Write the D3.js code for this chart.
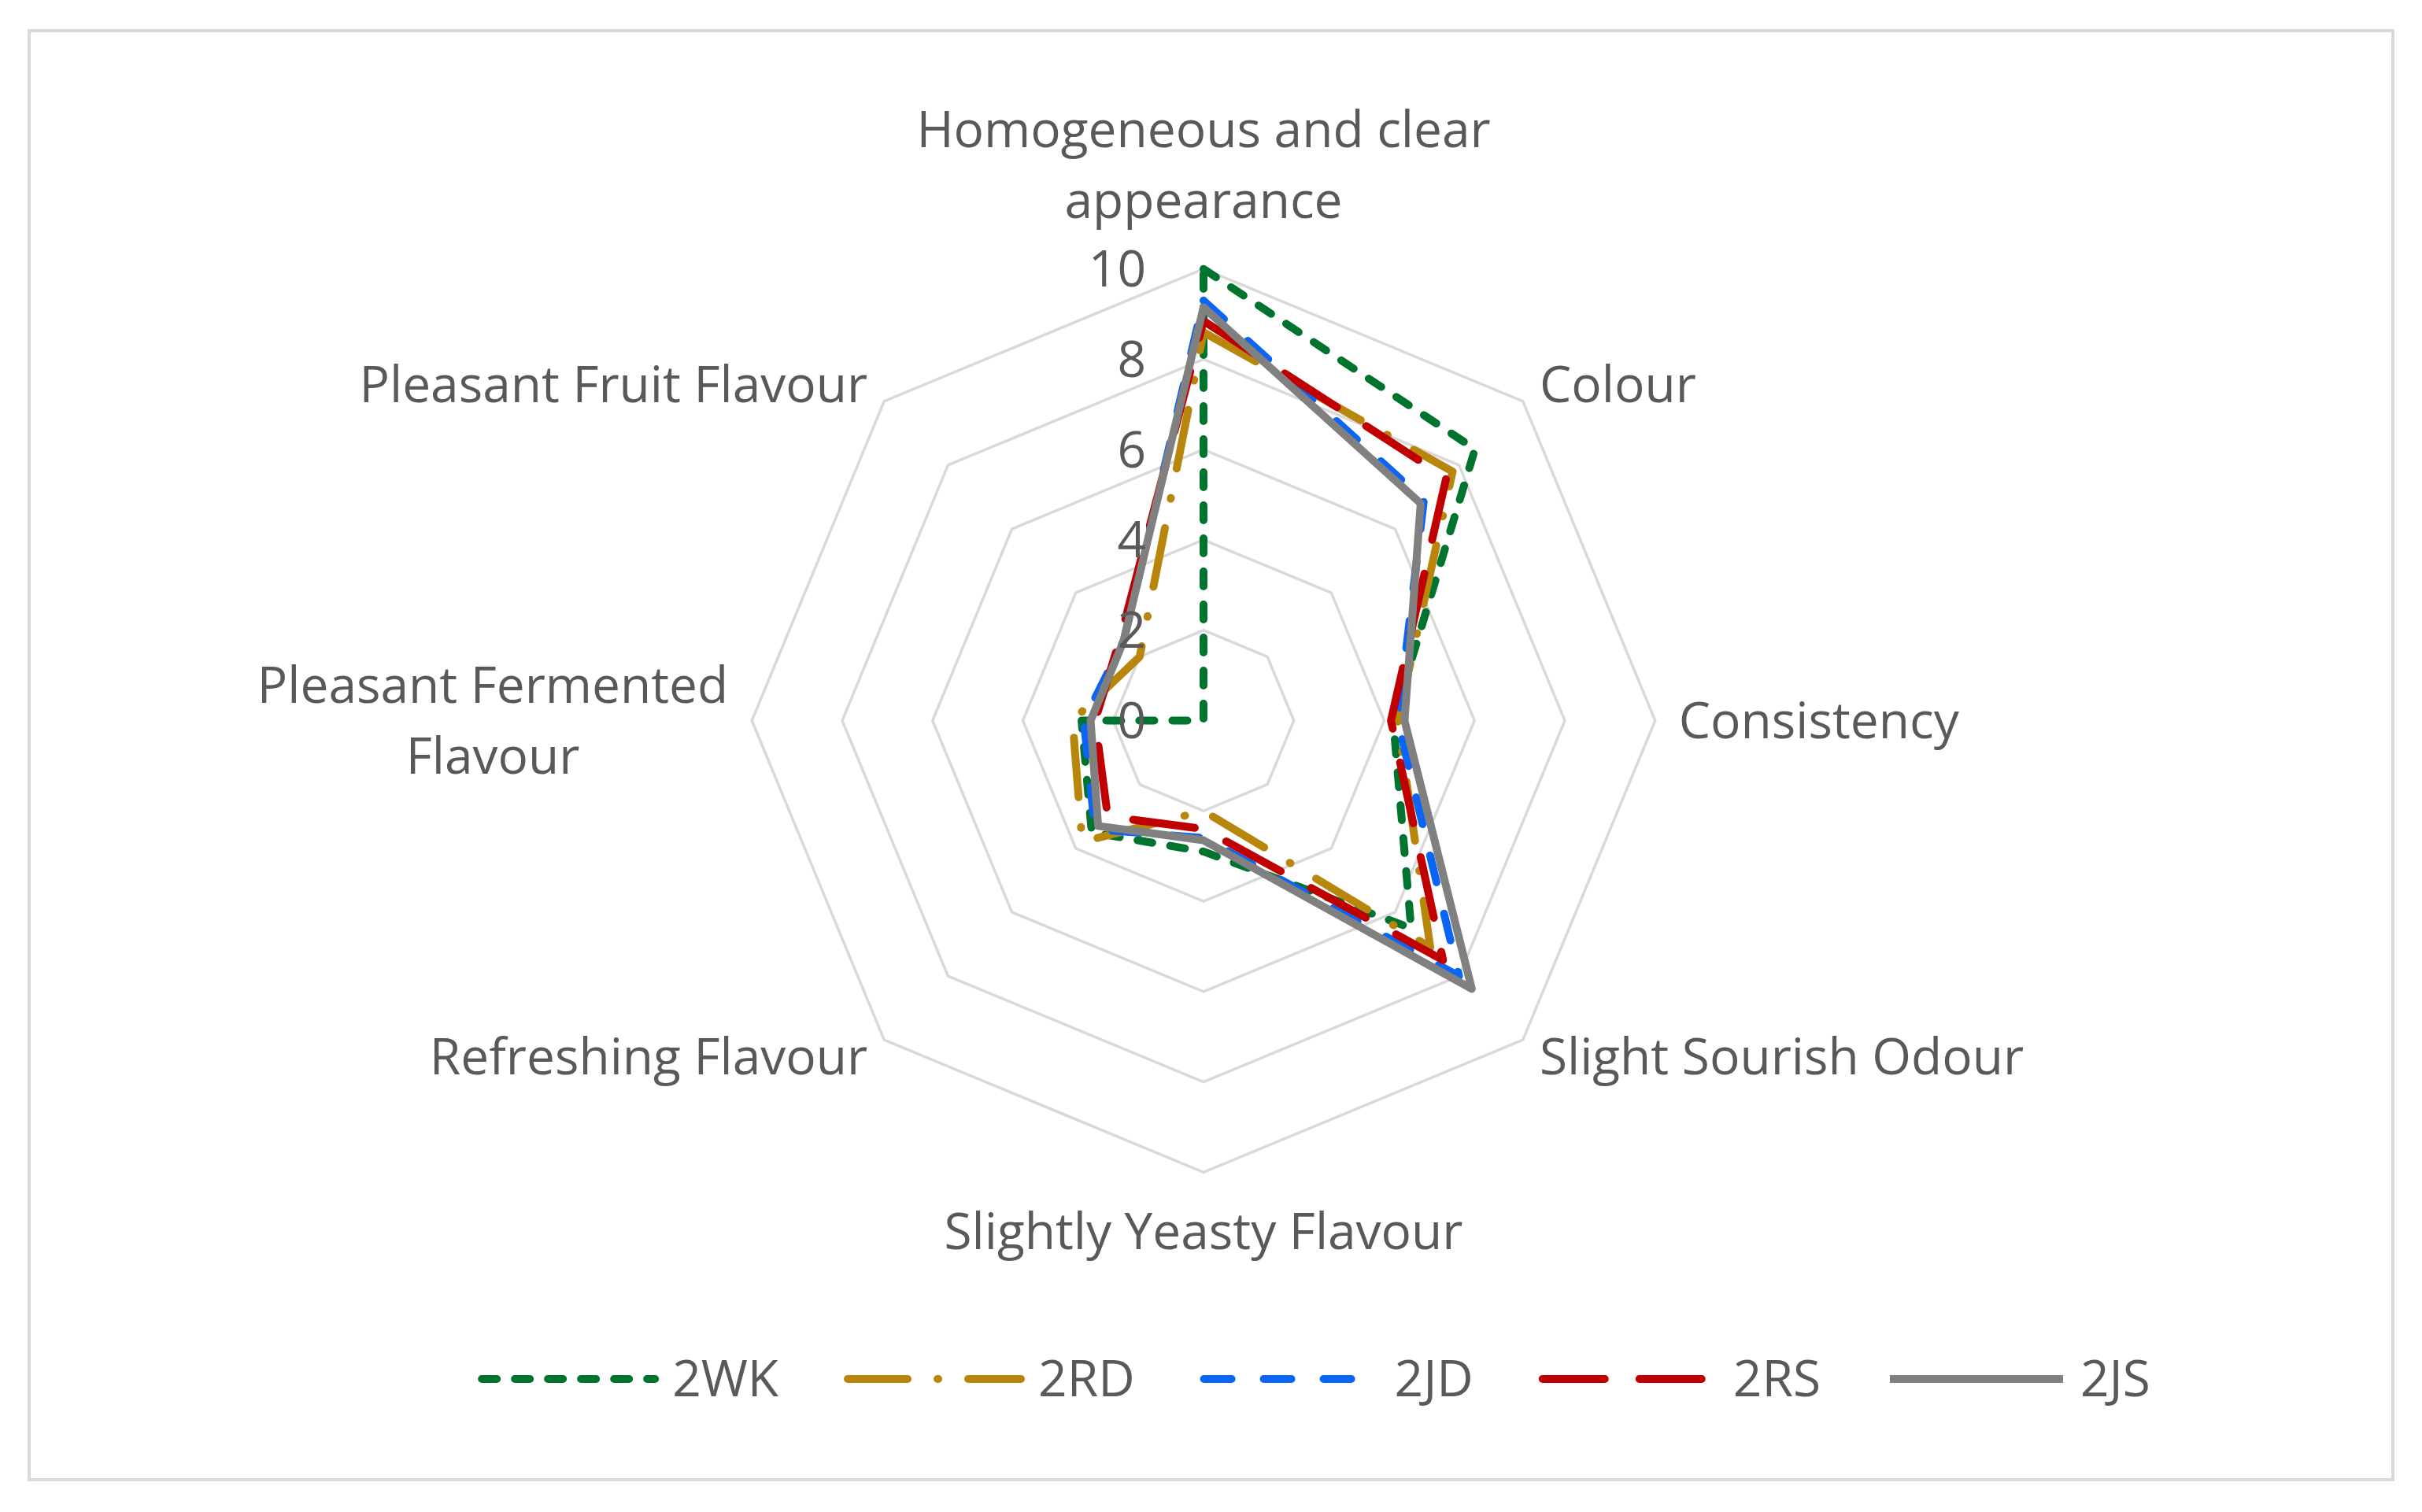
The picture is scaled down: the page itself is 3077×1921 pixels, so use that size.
<!DOCTYPE html>
<html>
<head>
<meta charset="utf-8">
<script src="https://cdn.jsdelivr.net/npm/d3@7"></script>
<style>
  body { margin: 0; background: #fff; }
</style>
</head>
<body>
<div id="chart"></div>
<script>
// Data (score 0-10)
const categories = [
  "Homogeneous and clear appearance",
  "Colour",
  "Consistency",
  "Slight Sourish Odour",
  "Slightly Yeasty Flavour",
  "Refreshing Flavour",
  "Pleasant Fermented Flavour",
  "Pleasant Fruit Flavour"
];
const seriesNames = ["2WK", "2RD", "2JD", "2RS", "2JS"];
const values2WK = [10, 8.5, 4.2, 6.5, 2.9, 3.5, 2.7, 0];
const values2RD = [8.6, 7.8, 4.3, 7.1, 2.0, 3.8, 2.9, 2.0];
const values2JD = [9.3, 6.9, 4.3, 8.0, 2.6, 3.4, 2.65, 2.5];
const values2RS = [8.85, 7.6, 4.15, 7.5, 2.4, 3.0, 2.4, 2.6];
const values2JS = [9.15, 6.8, 4.45, 8.4, 2.65, 3.3, 2.5, 2.5];
const tickValues = [0, 2, 4, 6, 8, 10];

const seriesValues = [values2WK, values2RD, values2JD, values2RS, values2JS];

// Line styles per series
const lineStyles = [
  { color: "#00732e", dash: "19,23" },
  { color: "#b8860b", dash: "76,38,1,38" },
  { color: "#0a64f5", dash: "35,41" },
  { color: "#c00000", dash: "79,44" },
  { color: "#808080", dash: null }
];

const W = 3077, H = 1921;
const cx = 1529, cy = 915.5;
const font = "'Open Sans', 'Liberation Sans', sans-serif";
const fontSize = 64;
const textColor = "#595959";

const svg = d3.select("#chart")
  .append("svg")
  .attr("width", W)
  .attr("height", H);

// Chart border
svg.append("rect")
  .attr("x", 37).attr("y", 39)
  .attr("width", 3003).attr("height", 1841)
  .attr("fill", "none")
  .attr("stroke", "#d9d9d9")
  .attr("stroke-width", 4);

const r = d3.scaleLinear().domain([0, 10]).range([0, 573.8]);
const angle = d3.scaleLinear().domain([0, categories.length]).range([0, 2 * Math.PI]);

const plot = svg.append("g")
  .attr("transform", `translate(${cx}, ${cy})`);

const radial = d3.lineRadial()
  .angle((d, i) => angle(i))
  .radius(d => r(d))
  .curve(d3.curveLinearClosed);

// Octagonal gridlines
plot.selectAll(".grid")
  .data(tickValues.filter(t => t > 0))
  .enter()
  .append("path")
  .attr("class", "grid")
  .attr("d", t => radial(categories.map(() => t)))
  .attr("fill", "none")
  .attr("stroke", "#d9d9d9")
  .attr("stroke-width", 3.5);

// Series
plot.selectAll(".series")
  .data(seriesValues)
  .enter()
  .append("path")
  .attr("class", "series")
  .attr("d", d => radial(d))
  .attr("fill", "none")
  .attr("stroke", (d, i) => lineStyles[i].color)
  .attr("stroke-width", 10)
  .attr("stroke-linejoin", "round")
  .attr("stroke-linecap", (d, i) => lineStyles[i].dash ? "round" : "butt")
  .attr("stroke-dasharray", (d, i) => lineStyles[i].dash);

// Tick labels
plot.selectAll(".tick")
  .data(tickValues)
  .enter()
  .append("text")
  .attr("class", "tick")
  .attr("x", -73)
  .attr("y", d => -r(d))
  .attr("dy", "0.35em")
  .attr("text-anchor", "end")
  .style("font-family", font)
  .style("font-size", fontSize + "px")
  .style("fill", textColor)
  .text(d => d);

// Category labels, wrapped and placed around the outer ring
const labelGap = 30, lineH = 90, maxLabelWidth = 760;
categories.forEach((c, i) => {
  const a = angle(i);
  const sx = Math.sin(a), sy = -Math.cos(a);
  // top label sits a little higher so it clears the "10" tick
  const gap = sy < -0.9 ? labelGap + 12 : labelGap;
  const px = (r(10) + gap) * sx;
  const py = (r(10) + gap) * sy;

  const txt = plot.append("text")
    .attr("text-anchor", "middle")
    .style("font-family", font)
    .style("font-size", fontSize + "px")
    .style("fill", textColor);

  // word wrap
  const words = c.split(" ");
  const lines = [];
  let line = [];
  let tspan = txt.append("tspan");
  words.forEach(w => {
    line.push(w);
    tspan.text(line.join(" "));
    if (tspan.node().getComputedTextLength() > maxLabelWidth && line.length > 1) {
      line.pop();
      tspan.text(line.join(" "));
      lines.push(tspan);
      line = [w];
      tspan = txt.append("tspan").text(w);
    }
  });
  lines.push(tspan);

  const boxW = d3.max(lines, t => t.node().getComputedTextLength());
  let x0;
  if (sx > 0.1) x0 = px + boxW / 2;
  else if (sx < -0.1) x0 = px - boxW / 2;
  else x0 = px;

  const n = lines.length;
  let firstCenter;
  if (sy < -0.9) firstCenter = py - n * lineH + lineH / 2;
  else if (sy > 0.9) firstCenter = py + lineH / 2;
  else firstCenter = py - (n - 1) * lineH / 2;

  lines.forEach((t, k) => {
    t.attr("x", x0)
      .attr("y", firstCenter + k * lineH)
      .attr("dy", "0.35em");
  });
});

// Legend
const legendY = 1752, legendLine = 220, legendTextGap = 22, legendItemGap = 88;
const legend = svg.append("g");
const items = legend.selectAll(".item")
  .data(seriesNames)
  .enter()
  .append("g")
  .attr("class", "item");

items.append("line")
  .attr("x1", 0).attr("x2", legendLine)
  .attr("y1", 0).attr("y2", 0)
  .attr("stroke", (d, i) => lineStyles[i].color)
  .attr("stroke-width", 10)
  .attr("stroke-linecap", (d, i) => lineStyles[i].dash ? "round" : "butt")
  .attr("stroke-dasharray", (d, i) => lineStyles[i].dash);

items.append("text")
  .attr("x", legendLine + legendTextGap)
  .attr("dy", "0.35em")
  .style("font-family", font)
  .style("font-size", fontSize + "px")
  .style("fill", textColor)
  .text(d => d);

const widths = [];
items.each(function () {
  widths.push(legendLine + legendTextGap + d3.select(this).select("text").node().getComputedTextLength());
});
const total = d3.sum(widths) + legendItemGap * (widths.length - 1);
let xPos = 1672 - total / 2;
items.each(function (d, i) {
  d3.select(this).attr("transform", `translate(${xPos}, ${legendY})`);
  xPos += widths[i] + legendItemGap;
});
</script>
</body>
</html>
